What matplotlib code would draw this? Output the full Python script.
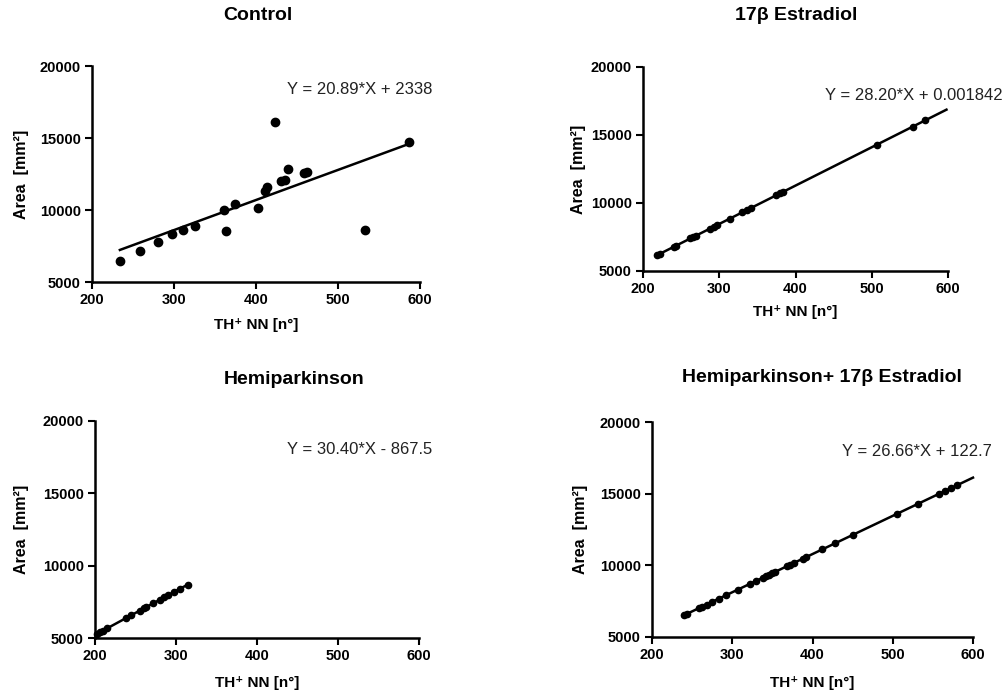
import matplotlib
matplotlib.use("Agg")
import matplotlib.pyplot as plt
import numpy as np

plt.rcParams['font.family'] = ['Liberation Sans', 'DejaVu Sans']

# ---- data: TH+ neuron number vs. area, one group per panel ----
control_x = [234, 259, 280, 298, 311, 325, 361, 364, 374, 403, 411, 414,
             431, 435, 439, 458, 462, 423, 533, 586]
control_y = [6450, 7170, 7800, 8310, 8610, 8910, 10000, 8560, 10450, 10160,
             11300, 11600, 12030, 12100, 12820, 12550, 12650, 16130, 8610, 14740]

estradiol_x = [218, 222, 240, 243, 262, 266, 270, 288, 293, 297, 314, 330,
               336, 342, 375, 380, 384, 507, 554, 570]
estradiol_y = [6150, 6260, 6770, 6850, 7390, 7500, 7610, 8120, 8260, 8380,
               8860, 9310, 9480, 9640, 10580, 10720, 10830, 14300, 15620, 16070]

hemi_x = [203, 206, 210, 215, 238, 245, 256, 260, 263, 272, 280, 285,
          290, 297, 305, 315]
hemi_y = [5300, 5420, 5500, 5680, 6350, 6600, 6900, 7050, 7120, 7400, 7630,
          7810, 7950, 8150, 8420, 8690]

hemi_e2_x = [240, 243, 258, 262, 268, 275, 283, 292, 307, 322, 330, 338,
             342, 346, 350, 353, 368, 372, 377, 388, 392, 412, 428, 451,
             505, 532, 558, 565, 572, 580]
hemi_e2_y = [6520, 6610, 6990, 7120, 7260, 7460, 7670, 7900, 8310, 8700,
             8930, 9130, 9250, 9340, 9450, 9540, 9940, 10040, 10170, 10470,
             10580, 11110, 11530, 12140, 13580, 14300, 15000, 15190, 15370,
             15590]

# fitted lines: slope, intercept, x-range of the drawn line
fits = {
    'control': (20.89, 2338.0, 234, 586),
    'estradiol': (28.20, 0.001842, 218, 598),
    'hemi': (30.40, -867.5, 203, 315),
    'hemi_e2': (26.66, 122.7, 238, 600),
}
equations = {
    'control': 'Y = 20.89*X + 2338',
    'estradiol': 'Y = 28.20*X + 0.001842',
    'hemi': 'Y = 30.40*X - 867.5',
    'hemi_e2': 'Y = 26.66*X + 122.7',
}
titles = {
    'control': 'Control',
    'estradiol': '17\u03b2 Estradiol',
    'hemi': 'Hemiparkinson',
    'hemi_e2': 'Hemiparkinson+ 17\u03b2 Estradiol',
}
x_ticks = [200, 300, 400, 500, 600]
y_ticks = [5000, 10000, 15000, 20000]

W, H = 1006, 696
fig = plt.figure(figsize=(W / 100, H / 100), dpi=100)


def px_axes(left, top, right, bottom):
    return fig.add_axes([left / W, 1 - bottom / H, (right - left) / W,
                         (bottom - top) / H])


panels = [
    # key, x, y, axes box (px), title pos, equation pos (left, center y), ylabel x, xlabel y, marker size
    ('control', control_x, control_y, (92, 66, 420, 282), (258, 15), (287, 90), 22, 325, 6),
    ('estradiol', estradiol_x, estradiol_y, (643, 67, 948, 271), (796, 15), (825, 95), 578, 312, 4.5),
    ('hemi', hemi_x, hemi_y, (95, 421, 419, 638), (294, 379), (287, 449), 22, 683, 4.5),
    ('hemi_e2', hemi_e2_x, hemi_e2_y, (652, 422, 973, 637), (822, 378), (842, 452), 580, 683, 4.5),
]

for key, xs, ys, box, tpos, epos, ylx, xly, ms in panels:
    ax = px_axes(*box)
    ax.plot(xs, ys, 'o', color='black', ms=ms, mec='black', clip_on=False, zorder=3)
    slope, icpt, x0, x1 = fits[key]
    lx = np.array([x0, x1])
    ax.plot(lx, slope * lx + icpt, color='black', lw=1.8, clip_on=False, zorder=2)
    ax.set_xlim(200, 600)
    ax.set_ylim(5000, 20000)
    ax.set_xticks(x_ticks)
    ax.set_yticks(y_ticks)
    ax.tick_params(direction='out', length=5, width=1.5, labelsize=10.5, pad=3)
    for lab in ax.get_xticklabels() + ax.get_yticklabels():
        lab.set_fontweight('bold')
    for side in ('top', 'right'):
        ax.spines[side].set_visible(False)
    for side in ('left', 'bottom'):
        ax.spines[side].set_linewidth(1.8)
    ax.patch.set_alpha(0)

    fig.text(tpos[0] / W, 1 - tpos[1] / H, titles[key], ha='center', va='center',
             fontsize=14, fontweight='bold')
    fig.text(epos[0] / W, 1 - epos[1] / H, equations[key], ha='left', va='center',
             fontsize=12, color='#222222')
    fig.text(ylx / W, 1 - ((box[1] + box[3]) / 2) / H, 'Area  [mm\u00b2]', rotation=90,
             ha='center', va='center', fontsize=11.5, fontweight='bold')
    fig.text(((box[0] + box[2]) / 2) / W, 1 - xly / H, 'TH\u207a NN [n\u00b0]',
             ha='center', va='center', fontsize=11, fontweight='bold')

fig.savefig('out.png', dpi=100, facecolor='white')
